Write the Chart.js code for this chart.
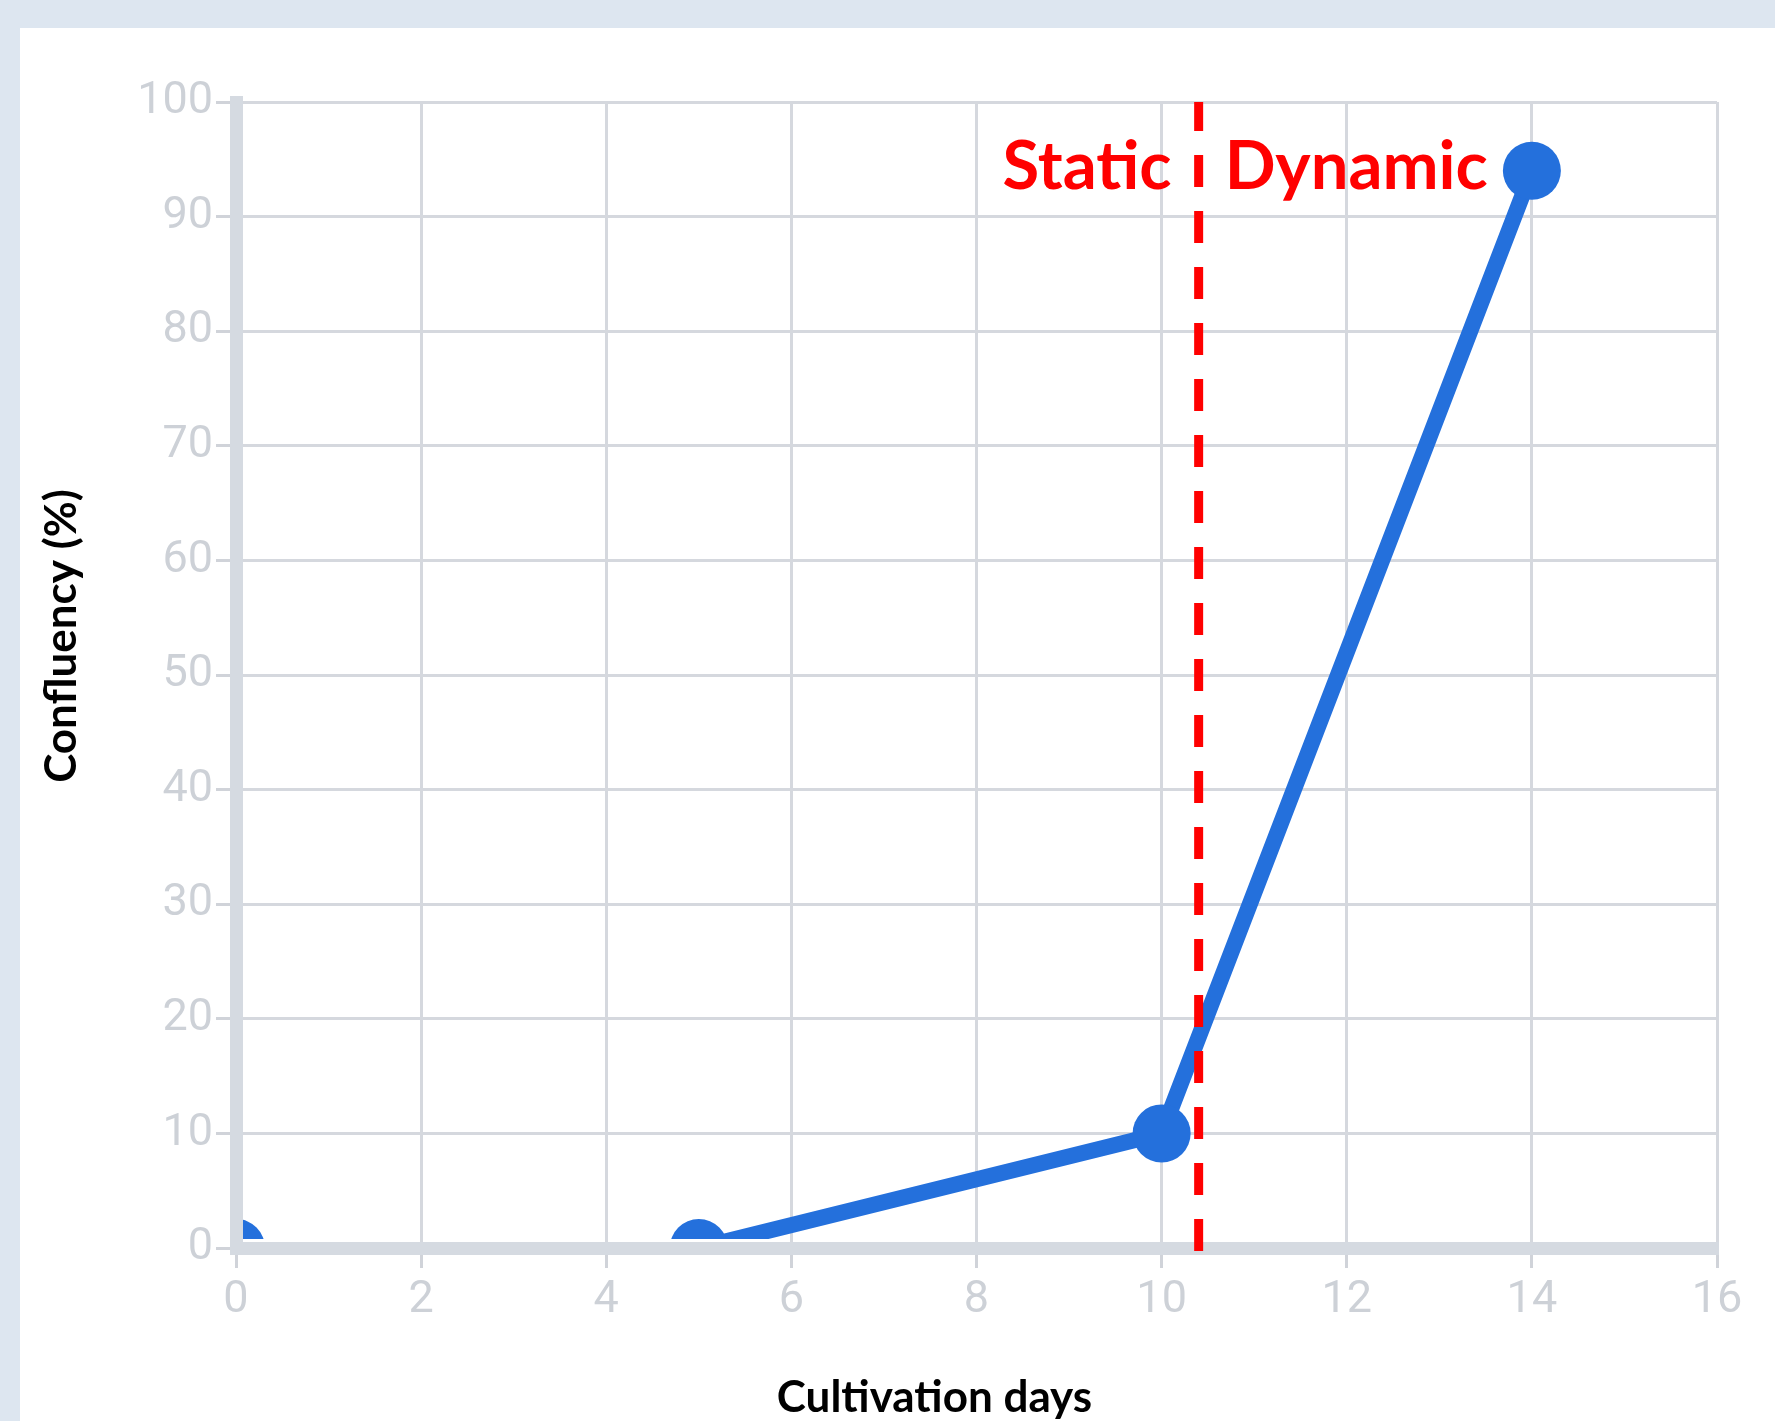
<!DOCTYPE html>
<html>
<head>
<meta charset="utf-8">
<script src="https://cdn.jsdelivr.net/npm/chart.js@4.4.0/dist/chart.umd.min.js"></script>
<style>
    html, body { margin: 0; padding: 0; }
    body { width: 1775px; height: 1421px; background: #dde6f0; overflow: hidden; }
    #panel { position: absolute; left: 20px; top: 28px; width: 1755px; height: 1393px; background: #fff; }
</style>
</head>
<body>
<div id="panel"><canvas id="chart"></canvas></div>
<script>
const days = [0, 5, 10, 14];
const confluency = [0, 0, 10, 94];
const xTicks = [0, 2, 4, 6, 8, 10, 12, 14, 16];
const yTicks = [0, 10, 20, 30, 40, 50, 60, 70, 80, 90, 100];
const phaseSwitchDay = 10.4;
const phaseLabels = ['Static', 'Dynamic'];
const phaseLabelLevel = 92.4;
const xTitle = 'Cultivation days';
const yTitle = 'Confluency (%)';

class ConfluencyChartView {

    #canvas;
    #chart;

    constructor(canvas) {
        this.#canvas = canvas;
    }

    displayChart() {
        if (this.#chart != null) {
            this.#chart.destroy();
        }
        this.#chart = new Chart(
            this.#canvas,
            {
                type: 'line',
                data: this.#getData(),
                options: this.#getOptions(),
                plugins: [this.#getPlugin()]
            });
    }

    #getPlugin() {
        return {
            id: 'phases',
            afterDatasetsDraw: chart => {
                const ctx = chart.ctx;
                const area = chart.chartArea;
                const red = '#ff0000';
                const x = chart.scales.x.getPixelForValue(phaseSwitchDay);
                const y = chart.scales.y.getPixelForValue(phaseLabelLevel);

                ctx.save();
                // static / dynamic boundary
                ctx.strokeStyle = red;
                ctx.lineWidth = 9;
                ctx.setLineDash([32, 24]);
                ctx.lineDashOffset = 3;
                ctx.beginPath();
                ctx.moveTo(x, area.top);
                ctx.lineTo(x, area.bottom + 4);
                ctx.stroke();
                ctx.setLineDash([]);

                ctx.fillStyle = red;
                ctx.font = 'bold 67px Lato';
                ctx.textBaseline = 'alphabetic';
                ctx.textAlign = 'right';
                ctx.fillText(phaseLabels[0], x - 27, y);
                ctx.textAlign = 'left';
                ctx.fillText(phaseLabels[1], x + 26, y);

                // axis titles
                ctx.fillStyle = '#000';
                ctx.font = 'bold 44px Lato';
                ctx.textAlign = 'center';
                ctx.textBaseline = 'middle';
                ctx.fillText(xTitle, (area.left + area.right) / 2 - 42, area.bottom + 150);
                ctx.translate(42, (area.top + area.bottom) / 2 - 39);
                ctx.rotate(-Math.PI / 2);
                ctx.fillText(yTitle, 0, 0);
                ctx.restore();
            }
        };
    }

    #getData() {
        return {
            labels: days,
            datasets: [
                {
                    label: 'Confluency',
                    data: days.map((d, i) => ({ x: d, y: confluency[i] })),
                    borderColor: '#2470dc',
                    backgroundColor: '#2470dc',
                    borderWidth: 16,
                    pointRadius: 29,
                    pointBorderWidth: 0,
                    pointBackgroundColor: '#2470dc',
                    tension: 0,
                    clip: { left: -7, bottom: -9, top: false, right: false }
                }
            ]
        };
    }

    #getOptions() {
        const tickFont = { family: 'Roboto', size: 45 };
        const grid = { color: '#d5d8de', lineWidth: 3, tickLength: 20, tickColor: '#d0d3d9', tickWidth: 3 };
        const border = { color: '#d5dae1', width: 13 };
        return {
            responsive: true,
            maintainAspectRatio: false,
            animation: false,
            events: [],
            layout: {
                padding: { top: 74, right: 58, left: 0, bottom: 0 }
            },
            plugins: {
                legend: { display: false },
                tooltip: { enabled: false }
            },
            scales: {
                x: {
                    type: 'linear',
                    min: 0,
                    max: 16,
                    afterBuildTicks: axis => { axis.ticks = xTicks.map(v => ({ value: v })); },
                    afterFit: scale => { scale.height = 173; },
                    ticks: { font: tickFont, color: '#cdd1d7', padding: 6 },
                    grid: grid,
                    border: border
                },
                y: {
                    min: 0,
                    max: 100,
                    afterBuildTicks: axis => { axis.ticks = yTicks.map(v => ({ value: v })); },
                    afterFit: scale => { scale.width = 216; },
                    ticks: { font: tickFont, color: '#cdd1d7', padding: 3 },
                    grid: grid,
                    border: border
                }
            }
        };
    }
}

new ConfluencyChartView(document.getElementById('chart')).displayChart();
</script>
</body>
</html>
